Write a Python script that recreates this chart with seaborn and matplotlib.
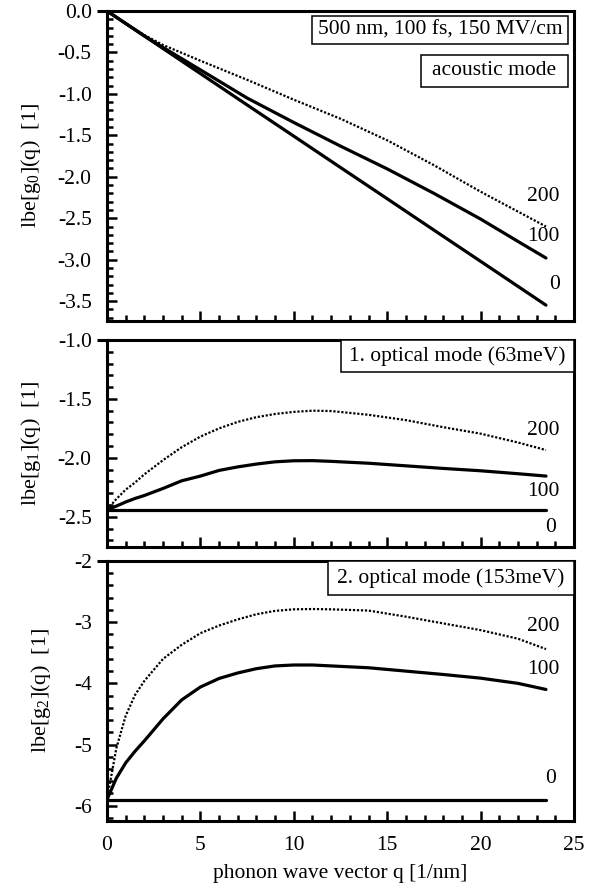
import matplotlib
matplotlib.use("Agg")
import matplotlib.pyplot as plt
import numpy as np
import pandas as pd
import seaborn as sns
from matplotlib.patches import Rectangle
from matplotlib.ticker import MultipleLocator, FormatStrFormatter

# ---- data: lbe of the coupling functions vs. phonon wave vector ----
field_labels = ["0", "100", "200"]

q_acoustic = [0, 1, 2, 3, 5, 7.5, 10, 12.5, 15, 17.5, 20, 22, 23.5]
g0_f0 = [0, -0.151, -0.302, -0.453, -0.755, -1.133, -1.51, -1.888, -2.265, -2.643, -3.02, -3.322, -3.549]
g0_f100 = [0, -0.15, -0.30, -0.44, -0.71, -1.05, -1.345, -1.63, -1.905, -2.20, -2.51, -2.78, -2.98]
g0_f200 = [0, -0.15, -0.29, -0.41, -0.60, -0.83, -1.07, -1.30, -1.56, -1.86, -2.18, -2.42, -2.60]

q_optical = [0, 0.5, 1, 1.5, 2, 3, 4, 5, 6, 7, 8, 9, 10, 11, 12, 14, 16, 18, 20, 22, 23.5]
g1_f0 = [-2.44] * len(q_optical)
g1_f100 = [-2.44, -2.41, -2.375, -2.345, -2.32, -2.26, -2.195, -2.155, -2.107, -2.077, -2.053,
           -2.034, -2.025, -2.024, -2.03, -2.046, -2.068, -2.09, -2.11, -2.135, -2.155]
g1_f200 = [-2.44, -2.35, -2.27, -2.21, -2.14, -2.02, -1.91, -1.82, -1.75, -1.695, -1.655,
           -1.628, -1.61, -1.60, -1.603, -1.635, -1.68, -1.74, -1.795, -1.87, -1.934]

g2_f0 = [-5.9] * len(q_optical)
g2_f100 = [-5.9, -5.55, -5.30, -5.11, -4.94, -4.58, -4.27, -4.06, -3.92, -3.83, -3.76,
           -3.715, -3.70, -3.70, -3.715, -3.745, -3.80, -3.855, -3.915, -4.00, -4.10]
g2_f200 = [-5.9, -5.06, -4.53, -4.19, -3.96, -3.60, -3.37, -3.18, -3.055, -2.955, -2.87,
           -2.815, -2.79, -2.785, -2.79, -2.81, -2.91, -3.02, -3.13, -3.27, -3.44]

panel_titles = ["acoustic mode", "1. optical mode (63meV)", "2. optical mode (153meV)"]
header_text = "500 nm, 100 fs, 150 MV/cm"
y_labels = ["lbe[g$_0$](q)  [1]", "lbe[g$_1$](q)  [1]", "lbe[g$_2$](q)  [1]"]
x_label = "phonon wave vector q [1/nm]"

# ---- style ----
sns.set_theme(style="white")
plt.rcParams["font.family"] = ["Liberation Serif", "DejaVu Serif"]
plt.rcParams["mathtext.fontset"] = "custom"
plt.rcParams["mathtext.rm"] = "Liberation Serif"
plt.rcParams["mathtext.it"] = "Liberation Serif:italic"
plt.rcParams["mathtext.default"] = "regular"
plt.rcParams["axes.unicode_minus"] = False

W, H = 597, 896
fig = plt.figure(figsize=(W / 100, H / 100), dpi=100)


def px_axes(left, top, right, bottom):
    return fig.add_axes([left / W, 1 - bottom / H, (right - left) / W, (bottom - top) / H])


ax1 = px_axes(107, 11, 574, 321)
ax2 = px_axes(107, 340, 574, 547)
ax3 = px_axes(107, 561, 574, 821)

panels = [
    (ax1, q_acoustic, [g0_f0, g0_f100, g0_f200], (-3.74, 0.0), 0.5, 0.1, "%.1f"),
    (ax2, q_optical, [g1_f0, g1_f100, g1_f200], (-2.757, -1.0), 0.5, 0.1, "%.1f"),
    (ax3, q_optical, [g2_f0, g2_f100, g2_f200], (-6.25, -2.0), 1.0, 0.2, "%d"),
]

line_styles = {
    "0": dict(lw=2.3, linestyle="-"),
    "100": dict(lw=2.3, linestyle="-"),
    "200": dict(lw=1.6, linestyle=(0, (1, 0.8))),
}

for ax, q, series, ylim, major, minor, fmt in panels:
    for lab, vals in zip(field_labels, series):
        df = pd.DataFrame({"q": q, "lbe": vals})
        sns.lineplot(data=df, x="q", y="lbe", ax=ax, color="black", sort=False,
                     **line_styles[lab])
    ax.set_xlim(0, 25)
    ax.set_ylim(*ylim)
    ax.xaxis.set_major_locator(MultipleLocator(5))
    ax.xaxis.set_minor_locator(MultipleLocator(1))
    ax.yaxis.set_major_locator(MultipleLocator(major))
    ax.yaxis.set_minor_locator(MultipleLocator(minor))
    ax.yaxis.set_major_formatter(FormatStrFormatter(fmt))
    ax.tick_params(axis="both", which="both", direction="in", bottom=True, left=True,
                   top=False, right=False, color="black", labelsize=15.5, pad=11,
                   labelcolor="black")
    ax.tick_params(axis="both", which="major", length=7, width=1.8)
    ax.tick_params(axis="both", which="minor", length=4, width=1.8)
    for sp in ax.spines.values():
        sp.set_visible(True)
        sp.set_color("black")
        sp.set_linewidth(2.2)
    ax.set_xlabel("")
    ax.set_ylabel("")
    # top border runs slightly past the left axis
    ax.plot([-0.022, 0], [1, 1], transform=ax.transAxes, color="black", lw=2.2,
            clip_on=False, solid_capstyle="butt")

ax1.tick_params(axis="x", labelbottom=False)
ax2.tick_params(axis="x", labelbottom=False)

# y axis labels
for ax, lab, xc in zip([ax1, ax2, ax3], y_labels, [-0.137, -0.137, -0.116]):
    ax.set_ylabel(lab, fontsize=16, color="black")
    ax.yaxis.set_label_coords(xc, 0.5)

ax3.set_xlabel(x_label, fontsize=15.5, color="black")
ax3.xaxis.set_label_coords(0.5, -0.165)


def boxed_text(ax, text, x0, y0, x1, y1):
    ax.add_patch(Rectangle((x0, y0), x1 - x0, y1 - y0, transform=ax.transAxes,
                           facecolor="white", edgecolor="black", lw=1.1, zorder=5,
                           clip_on=False))
    ax.text((x0 + x1) / 2, (y0 + y1) / 2, text, transform=ax.transAxes, ha="center",
            va="center", fontsize=15.5, color="black", zorder=6)


boxed_text(ax1, header_text, 0.439, 0.894, 0.987, 0.985)
boxed_text(ax1, panel_titles[0], 0.672, 0.755, 0.987, 0.858)
boxed_text(ax2, panel_titles[1], 0.502, 0.845, 1.0, 1.0)
boxed_text(ax3, panel_titles[2], 0.4726, 0.869, 1.0, 1.0)

# field-strength annotations at the right end of each curve
curve_tags = [
    (ax1, [(24.25, -3.30), (24.25, -2.72), (24.2, -2.24)]),
    (ax2, [(24.05, -2.59), (24.25, -2.29), (24.25, -1.765)]),
    (ax3, [(24.05, -5.55), (24.25, -3.78), (24.25, -3.07)]),
]
for ax, spots in curve_tags:
    for lab, (xt, yt) in zip(field_labels, spots):
        ax.text(xt, yt, lab, ha="right", va="center", fontsize=15.5, color="black")

fig.savefig("out.png", dpi=100, facecolor="white")
